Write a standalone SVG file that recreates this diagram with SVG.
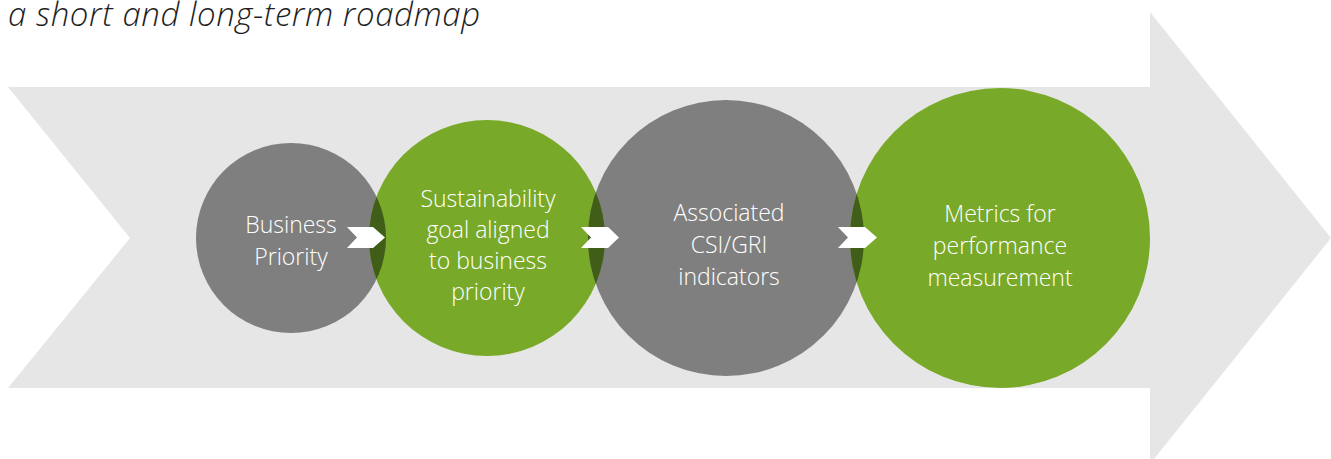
<svg xmlns="http://www.w3.org/2000/svg" width="1331" height="459" viewBox="0 0 1331 459">
  <style>
    .band { fill: #e6e6e6; }
    .gray { fill: #7f7f7f; }
    .green { fill: #79a928; }
    .lens { fill: #405e17; }
    .chev { fill: #ffffff; }
    .label { font-family: "Open Sans", "Noto Sans", sans-serif; font-weight: 300; font-size: 23px; fill: #ffffff; text-anchor: middle; }
    .title { font-family: "Open Sans", "Noto Sans", sans-serif; font-weight: 300; font-style: italic; font-size: 33px; fill: #1e1e1e; }
  </style>
  <defs>
    <clipPath id="clip1"><circle cx="291" cy="238" r="95"/></clipPath>
    <clipPath id="clip3"><circle cx="726" cy="238" r="138"/></clipPath>
  </defs>

  <text class="title" x="8" y="26" textLength="472" lengthAdjust="spacing">a short and long-term roadmap</text>

  <!-- background chevron arrow -->
  <path class="band" d="M8,87 L1150,87 L1150,12 L1331,238 L1150,464 L1150,388 L8,388 L130,238 Z"/>

  <g id="node-business-priority">
    <circle class="gray" cx="291" cy="238" r="95"/>
    <text class="label" x="291" y="233">Business</text>
    <text class="label" x="291" y="265">Priority</text>
  </g>

  <g id="node-sustainability-goal">
    <circle class="green" cx="487" cy="238" r="118"/>
    <circle class="lens" cx="487" cy="238" r="118" clip-path="url(#clip1)"/>
    <text class="label" x="488" y="207">Sustainability</text>
    <text class="label" x="488" y="238">goal aligned</text>
    <text class="label" x="488" y="269">to business</text>
    <text class="label" x="488" y="300">priority</text>
  </g>

  <g id="node-csi-gri">
    <circle class="gray" cx="726" cy="238" r="138"/>
    <circle class="lens" cx="487" cy="238" r="118" clip-path="url(#clip3)"/>
    <text class="label" x="729" y="221">Associated</text>
    <text class="label" x="729" y="253">CSI/GRI</text>
    <text class="label" x="729" y="285">indicators</text>
  </g>

  <g id="node-metrics">
    <circle class="green" cx="1000" cy="238" r="150"/>
    <circle class="lens" cx="1000" cy="238" r="150" clip-path="url(#clip3)"/>
    <text class="label" x="1000" y="222">Metrics for</text>
    <text class="label" x="1000" y="254">performance</text>
    <text class="label" x="1000" y="286">measurement</text>
  </g>

  <g id="connectors">
    <path class="chev" d="M347,227 L373,227 L385,237.5 L373,248 L347,248 L357,237.5 Z"/>
    <path class="chev" d="M581,227 L608,227 L619,237.5 L608,248 L581,248 L591,237.5 Z"/>
    <path class="chev" d="M838,227 L865,227 L877,237.5 L865,248 L838,248 L848,237.5 Z"/>
  </g>
</svg>
